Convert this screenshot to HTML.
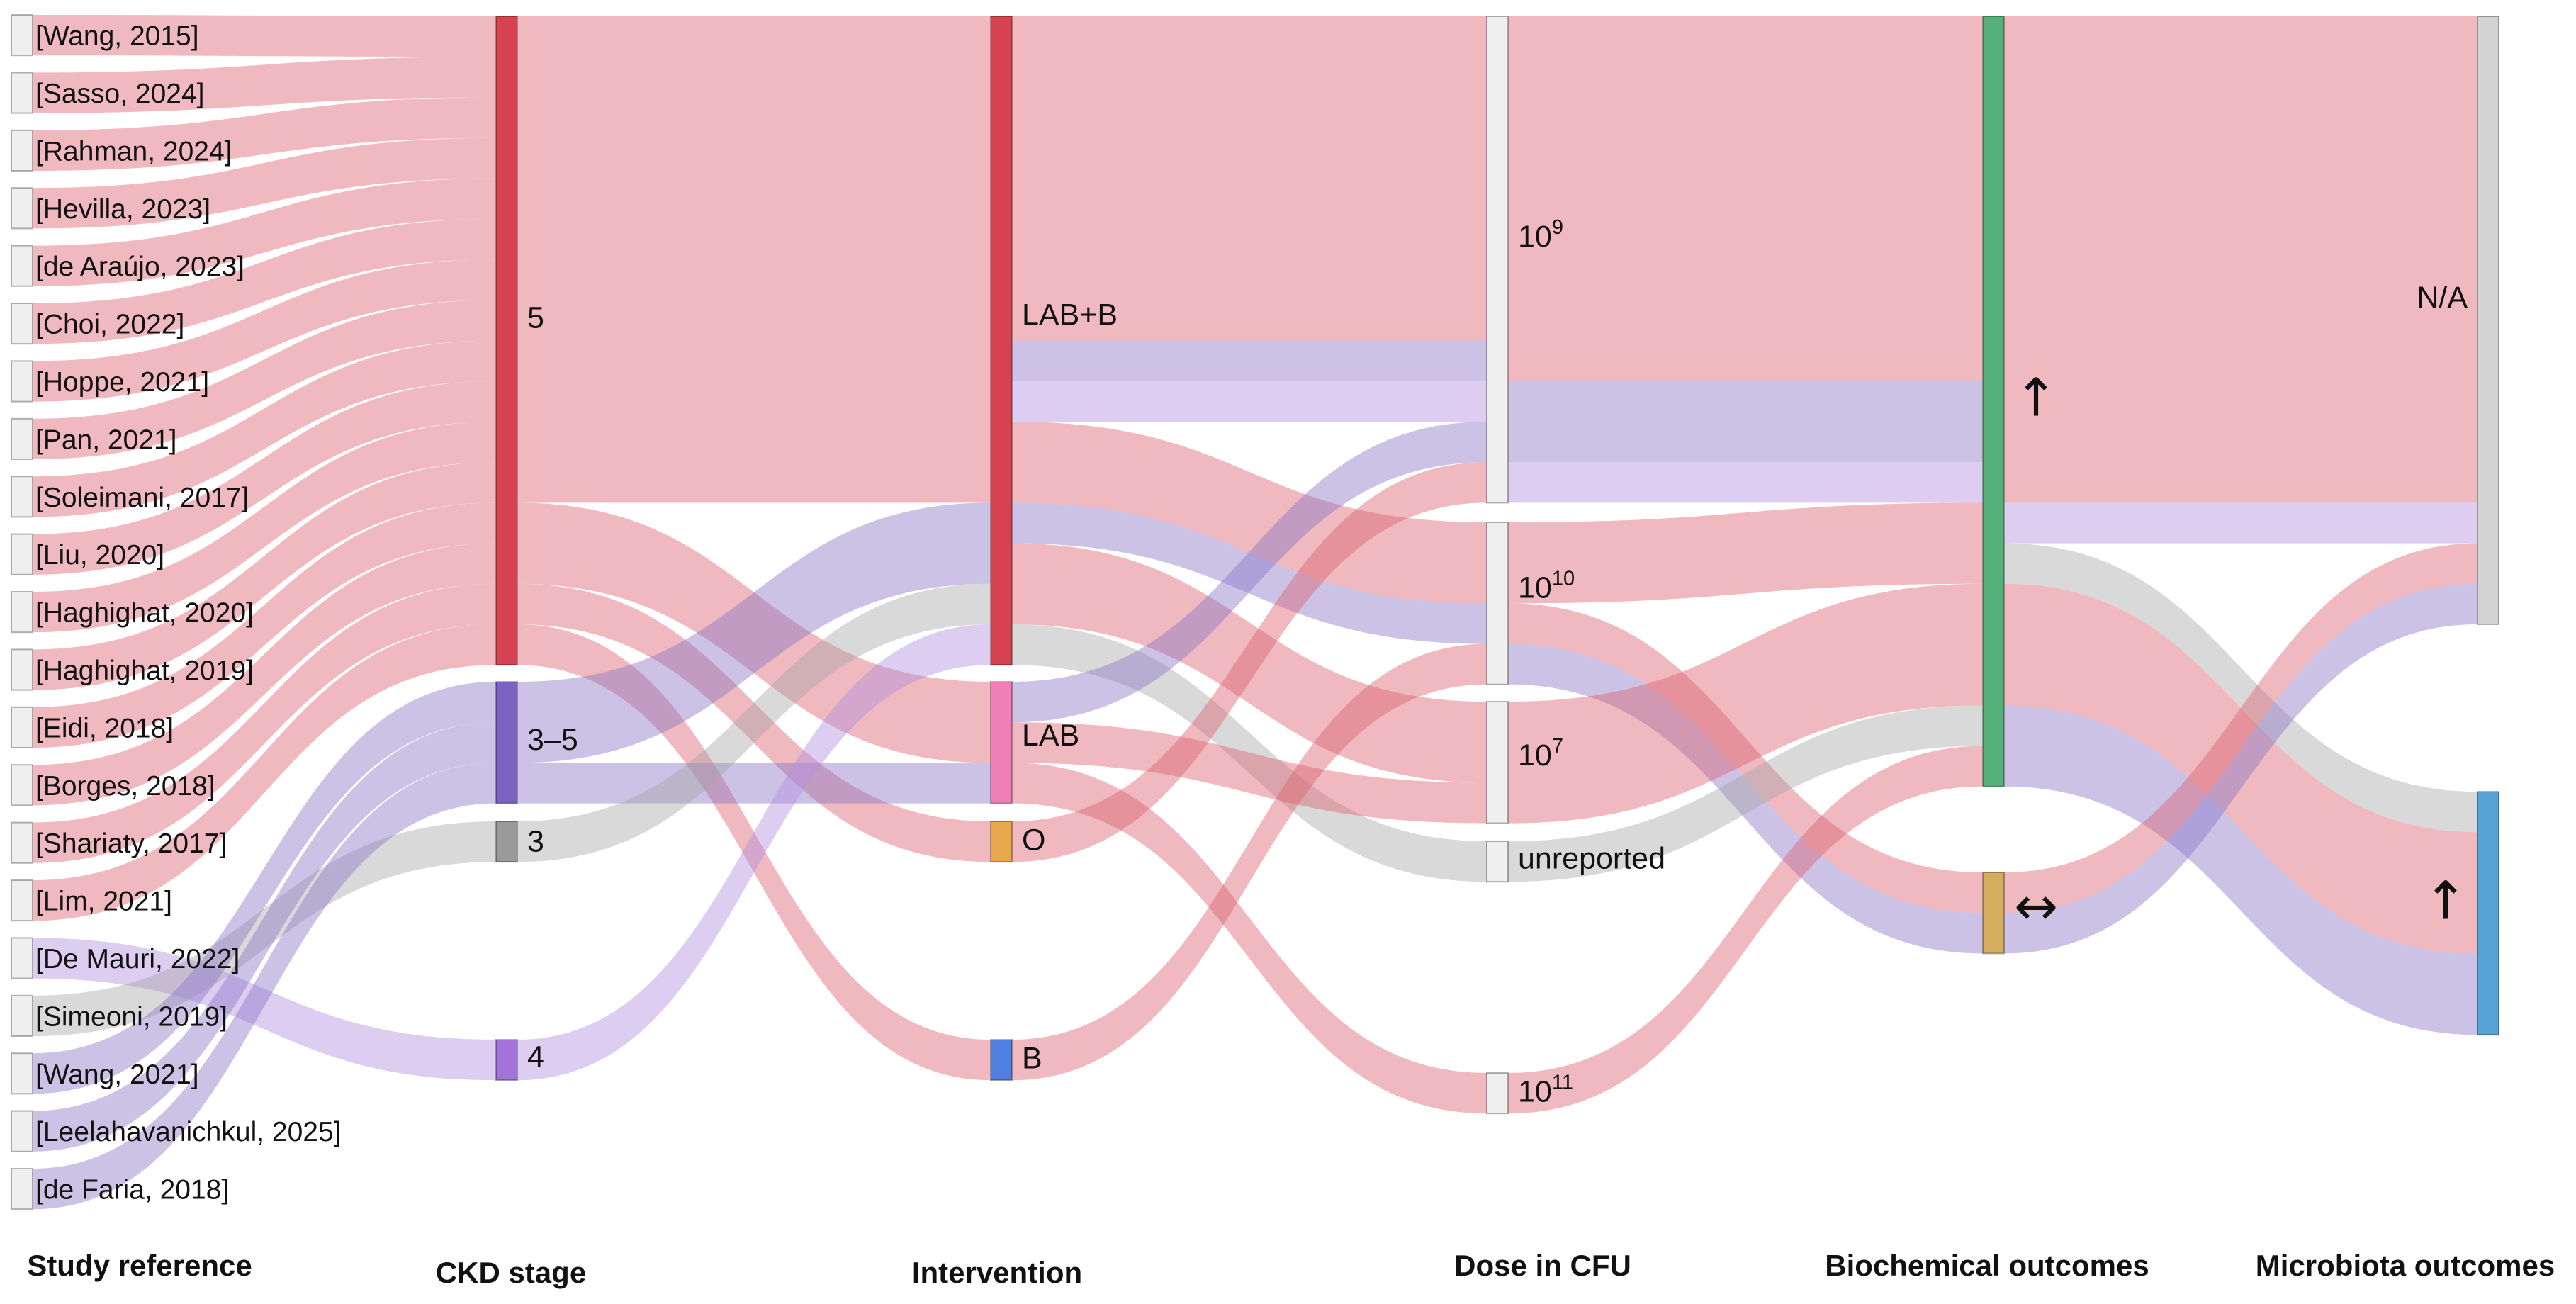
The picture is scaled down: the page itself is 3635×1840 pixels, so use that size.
<!DOCTYPE html>
<html><head><meta charset="utf-8"><style>
html,body{margin:0;padding:0;background:#fff;}
svg{display:block;font-family:"Liberation Sans",sans-serif;}
</style></head><body>
<svg id="chart" width="3635" height="1840" viewBox="0 0 3635 1840" xmlns="http://www.w3.org/2000/svg">
<g id="links"></g>
<g id="nodes"></g>
<g id="labels"></g>
<g font-weight="bold" font-size="42" fill="#111">
<text x="197" y="1800" text-anchor="middle">Study reference</text>
<text x="721" y="1810" text-anchor="middle">CKD stage</text>
<text x="1407" y="1810" text-anchor="middle">Intervention</text>
<text x="2177" y="1800" text-anchor="middle">Dose in CFU</text>
<text x="2804" y="1800" text-anchor="middle">Biochemical outcomes</text>
<text x="3394" y="1800" text-anchor="middle">Microbiota outcomes</text>
</g>
</svg>
<script>
// ---- data ----
const studies = ["[Wang, 2015]","[Sasso, 2024]","[Rahman, 2024]","[Hevilla, 2023]","[de Araújo, 2023]","[Choi, 2022]","[Hoppe, 2021]","[Pan, 2021]","[Soleimani, 2017]","[Liu, 2020]","[Haghighat, 2020]","[Haghighat, 2019]","[Eidi, 2018]","[Borges, 2018]","[Shariaty, 2017]","[Lim, 2021]","[De Mauri, 2022]","[Simeoni, 2019]","[Wang, 2021]","[Leelahavanichkul, 2025]","[de Faria, 2018]"];
const studyStage = ["s5","s5","s5","s5","s5","s5","s5","s5","s5","s5","s5","s5","s5","s5","s5","s5","s4","s3","s35","s35","s35"];
const stageColorKey = {s5:"r",s35:"p",s3:"g",s4:"lp"};
const stageLinks = [["s5","labb","r",12],["s5","lab","r",2],["s5","o","r",1],["s5","b","r",1],["s35","labb","p",2],["s35","lab","p",1],["s3","labb","g",1],["s4","labb","lp",1]];
const interventionLinks = [["labb","d9","r",8],["labb","d9","p",1],["labb","d9","lp",1],["labb","d10","r",2],["labb","d10","p",1],["labb","d7","r",2],["labb","dun","g",1],["lab","d9","p",1],["lab","d7","r",1],["lab","d11","r",1],["o","d9","r",1],["b","d10","r",1]];
const doseLinks = [["d9","bup","r",9],["d9","bup","p",2],["d9","bup","lp",1],["d10","bup","r",2],["d10","beq","r",1],["d10","beq","p",1],["d7","bup","r",3],["dun","bup","g",1],["d11","bup","r",1]];
const biochemLinks = [["bup","mna","r",12],["bup","mna","lp",1],["bup","mup","g",1],["bup","mup","r",3],["bup","mup","p",2],["beq","mna","r",1],["beq","mna","p",1]];

// ---- layout (not data) ----
const U = 57.2;
const colX = [16, 700, 1398, 2098, 2798, 3496];
const NW = 30;
const linkFill = {r:"rgba(220,100,112,0.45)", p:"rgba(140,120,200,0.45)", lp:"rgba(180,145,225,0.45)", g:"rgba(165,165,165,0.42)"};
// id, label, col, top, color, side, label dy, arrow glyph
const nodeDefs = [
 ["s5","5",1,23,"#d4434f","right",-32,0],["s35","3–5",1,962,"#7b62c0","right",-4,0],["s3","3",1,1159,"#9a9a9a","right",0,0],["s4","4",1,1467,"#a373db","right",-4,0],
 ["labb","LAB+B",2,23,"#d4434f","right",-36,0],["lab","LAB",2,962,"#ef7fb5","right",-10,0],["o","O",2,1159,"#e9a84d","right",-2,0],["b","B",2,1467,"#4f7fe0","right",-2,0],
 ["d9","10|9",3,23,"#efefef","right",-32,0],["d10","10|10",3,737,"#efefef","right",-22,0],["d7","10|7",3,990,"#efefef","right",-10,0],["dun","unreported",3,1187,"#efefef","right",-4,0],["d11","10|11",3,1514,"#efefef","right",-2,0],
 ["bup","↑",4,23,"#55b07a","right",-4,1],["beq","↔",4,1231,"#d4ad5e","right",-8,1],
 ["mna","N/A",5,23,"#d3d3d3","left",-32,0],["mup","↑",5,1117,"#57a3d6","left",-16,1]
];
const nodes = {};
const studyLinks = [];
studies.forEach((s,i)=>{
  nodes["st"+i] = {id:"st"+i,label:s,col:0,y:21+i*81.4,color:"#efefef",side:"right",dy:0,arrow:0,inV:0,outV:0,ins:[],outs:[]};
  studyLinks.push(["st"+i, studyStage[i], stageColorKey[studyStage[i]], 1]);
});
nodeDefs.forEach(d=>{nodes[d[0]]={id:d[0],label:d[1],col:d[2],y:d[3],color:d[4],side:d[5],dy:d[6],arrow:d[7],inV:0,outV:0,ins:[],outs:[]};});
const allLinks = [].concat(studyLinks, stageLinks, interventionLinks, doseLinks, biochemLinks).map(l=>({s:nodes[l[0]],t:nodes[l[1]],c:l[2],v:l[3]}));
allLinks.forEach(l=>{l.s.outs.push(l);l.t.ins.push(l);l.s.outV+=l.v;l.t.inV+=l.v;});
Object.values(nodes).forEach(n=>{
  n.h = Math.max(n.inV,n.outV)*U;
  let y=n.y;
  n.outs.slice().sort((a,b)=>a.t.y-b.t.y).forEach(l=>{l.sy=y;y+=l.v*U;});
  y=n.y;
  n.ins.slice().sort((a,b)=>a.s.y-b.s.y).forEach(l=>{l.ty=y;y+=l.v*U;});
});
const NS="http://www.w3.org/2000/svg";
const gL=document.getElementById("links"), gN=document.getElementById("nodes"), gT=document.getElementById("labels");
allLinks.forEach(l=>{
  const x0=colX[l.s.col]+NW, x1=colX[l.t.col], h=l.v*U, xm=(x0+x1)/2;
  const d=`M${x0},${l.sy} C${xm},${l.sy} ${xm},${l.ty} ${x1},${l.ty} L${x1},${l.ty+h} C${xm},${l.ty+h} ${xm},${l.sy+h} ${x0},${l.sy+h} Z`;
  const p=document.createElementNS(NS,"path");
  p.setAttribute("d",d);p.setAttribute("fill",linkFill[l.c]);
  
  
  gL.appendChild(p);
});
Object.values(nodes).forEach(n=>{
  const r=document.createElementNS(NS,"rect");
  r.setAttribute("x",colX[n.col]);r.setAttribute("y",n.y);r.setAttribute("width",NW);r.setAttribute("height",n.h);
  r.setAttribute("fill",n.color);r.setAttribute("stroke","rgba(0,0,0,0.3)");r.setAttribute("stroke-width","2");
  
  
  gN.appendChild(r);
  const t=document.createElementNS(NS,"text");
  let cy=n.y+n.h/2+14+n.dy;
  let fs = n.col===0?39:43;
  if(n.arrow){fs=74;cy=n.y+n.h/2+24+n.dy;t.setAttribute("font-family","DejaVu Sans, sans-serif");}
  t.setAttribute("font-size",fs);t.setAttribute("fill","#111");
  if(n.side==="right"){t.setAttribute("x",colX[n.col]+NW+(n.col===0?4:14));}
  else{t.setAttribute("x",colX[n.col]-14);t.setAttribute("text-anchor","end");}
  t.setAttribute("y",cy);
  if(n.label.indexOf("|")>=0){
    const parts=n.label.split("|");
    const a=document.createElementNS(NS,"tspan");a.textContent=parts[0];t.appendChild(a);
    const b=document.createElementNS(NS,"tspan");b.textContent=parts[1];b.setAttribute("font-size","29");b.setAttribute("dy","-18");t.appendChild(b);
  } else t.textContent=n.label;
  
  
  gT.appendChild(t);
});
</script>
</body></html>
